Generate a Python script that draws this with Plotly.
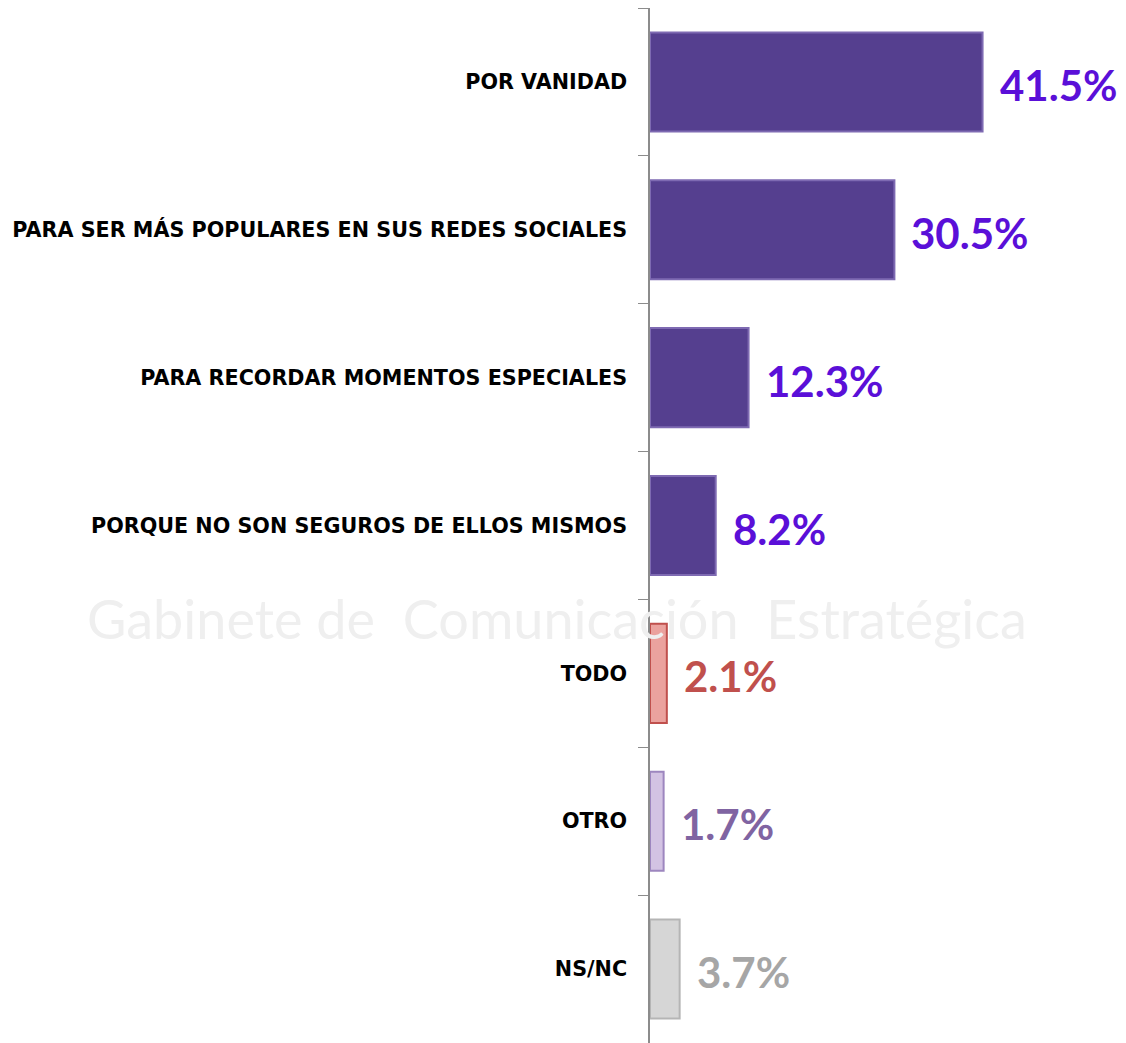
import plotly.graph_objects as go

categories = ["POR VANIDAD", "PARA SER MÁS POPULARES EN SUS REDES SOCIALES",
              "PARA RECORDAR MOMENTOS ESPECIALES", "PORQUE NO SON SEGUROS DE ELLOS MISMOS",
              "TODO", "OTRO", "NS/NC"]
values = [41.5, 30.5, 12.3, 8.2, 2.1, 1.7, 3.7]
value_labels = ["41.5%", "30.5%", "12.3%", "8.2%", "2.1%", "1.7%", "3.7%"]

bar_fill = ["#553F8F"] * 4 + ["#EBA29E", "#D3C3E3", "#D6D6D6"]
bar_edge = ["#7E6AB2"] * 4 + ["#C0504D", "#9D86BF", "#B5B5B5"]
label_colors = ["#5A0FD8"] * 4 + ["#C0504D", "#8064A2", "#A6A6A6"]

fig = go.Figure()
fig.add_trace(go.Bar(
    x=values, y=categories, orientation="h",
    marker=dict(color=bar_fill, line=dict(color=bar_edge, width=2)),
    width=0.67, hoverinfo="skip",
))

for cat, v, lab, col in zip(categories, values, value_labels, label_colors):
    fig.add_annotation(x=v, y=cat, text=lab, showarrow=False, xanchor="left",
                       xshift=15, yshift=-3,
                       font=dict(family="Lato", size=42, color=col, weight="bold"))

# faint watermark text
fig.add_annotation(xref="paper", yref="paper", x=-1.187, y=0.4098, xanchor="left",
                   text="Gabinete de  Comunicación  Estratégica", showarrow=False,
                   font=dict(family="Lato", size=54, color="#EFEFEF"))

fig.update_layout(
    width=1118, height=1035,
    margin=dict(l=642, r=0, t=0, b=0, autoexpand=False),
    plot_bgcolor="white", paper_bgcolor="white",
    showlegend=False, bargap=0.33,
    xaxis=dict(range=[0, 59.4], visible=False, fixedrange=True),
    yaxis=dict(autorange="reversed", showline=True, linecolor="#8C8C8C", linewidth=1.5,
               ticks="outside", ticklen=10, tickcolor="#8C8C8C", tickson="boundaries",
               ticklabelstandoff=17,
               tickfont=dict(family="DejaVu Sans", size=20.7, color="black", weight="bold"),
               showgrid=False, zeroline=False),
)

fig.write_html("out.html")
